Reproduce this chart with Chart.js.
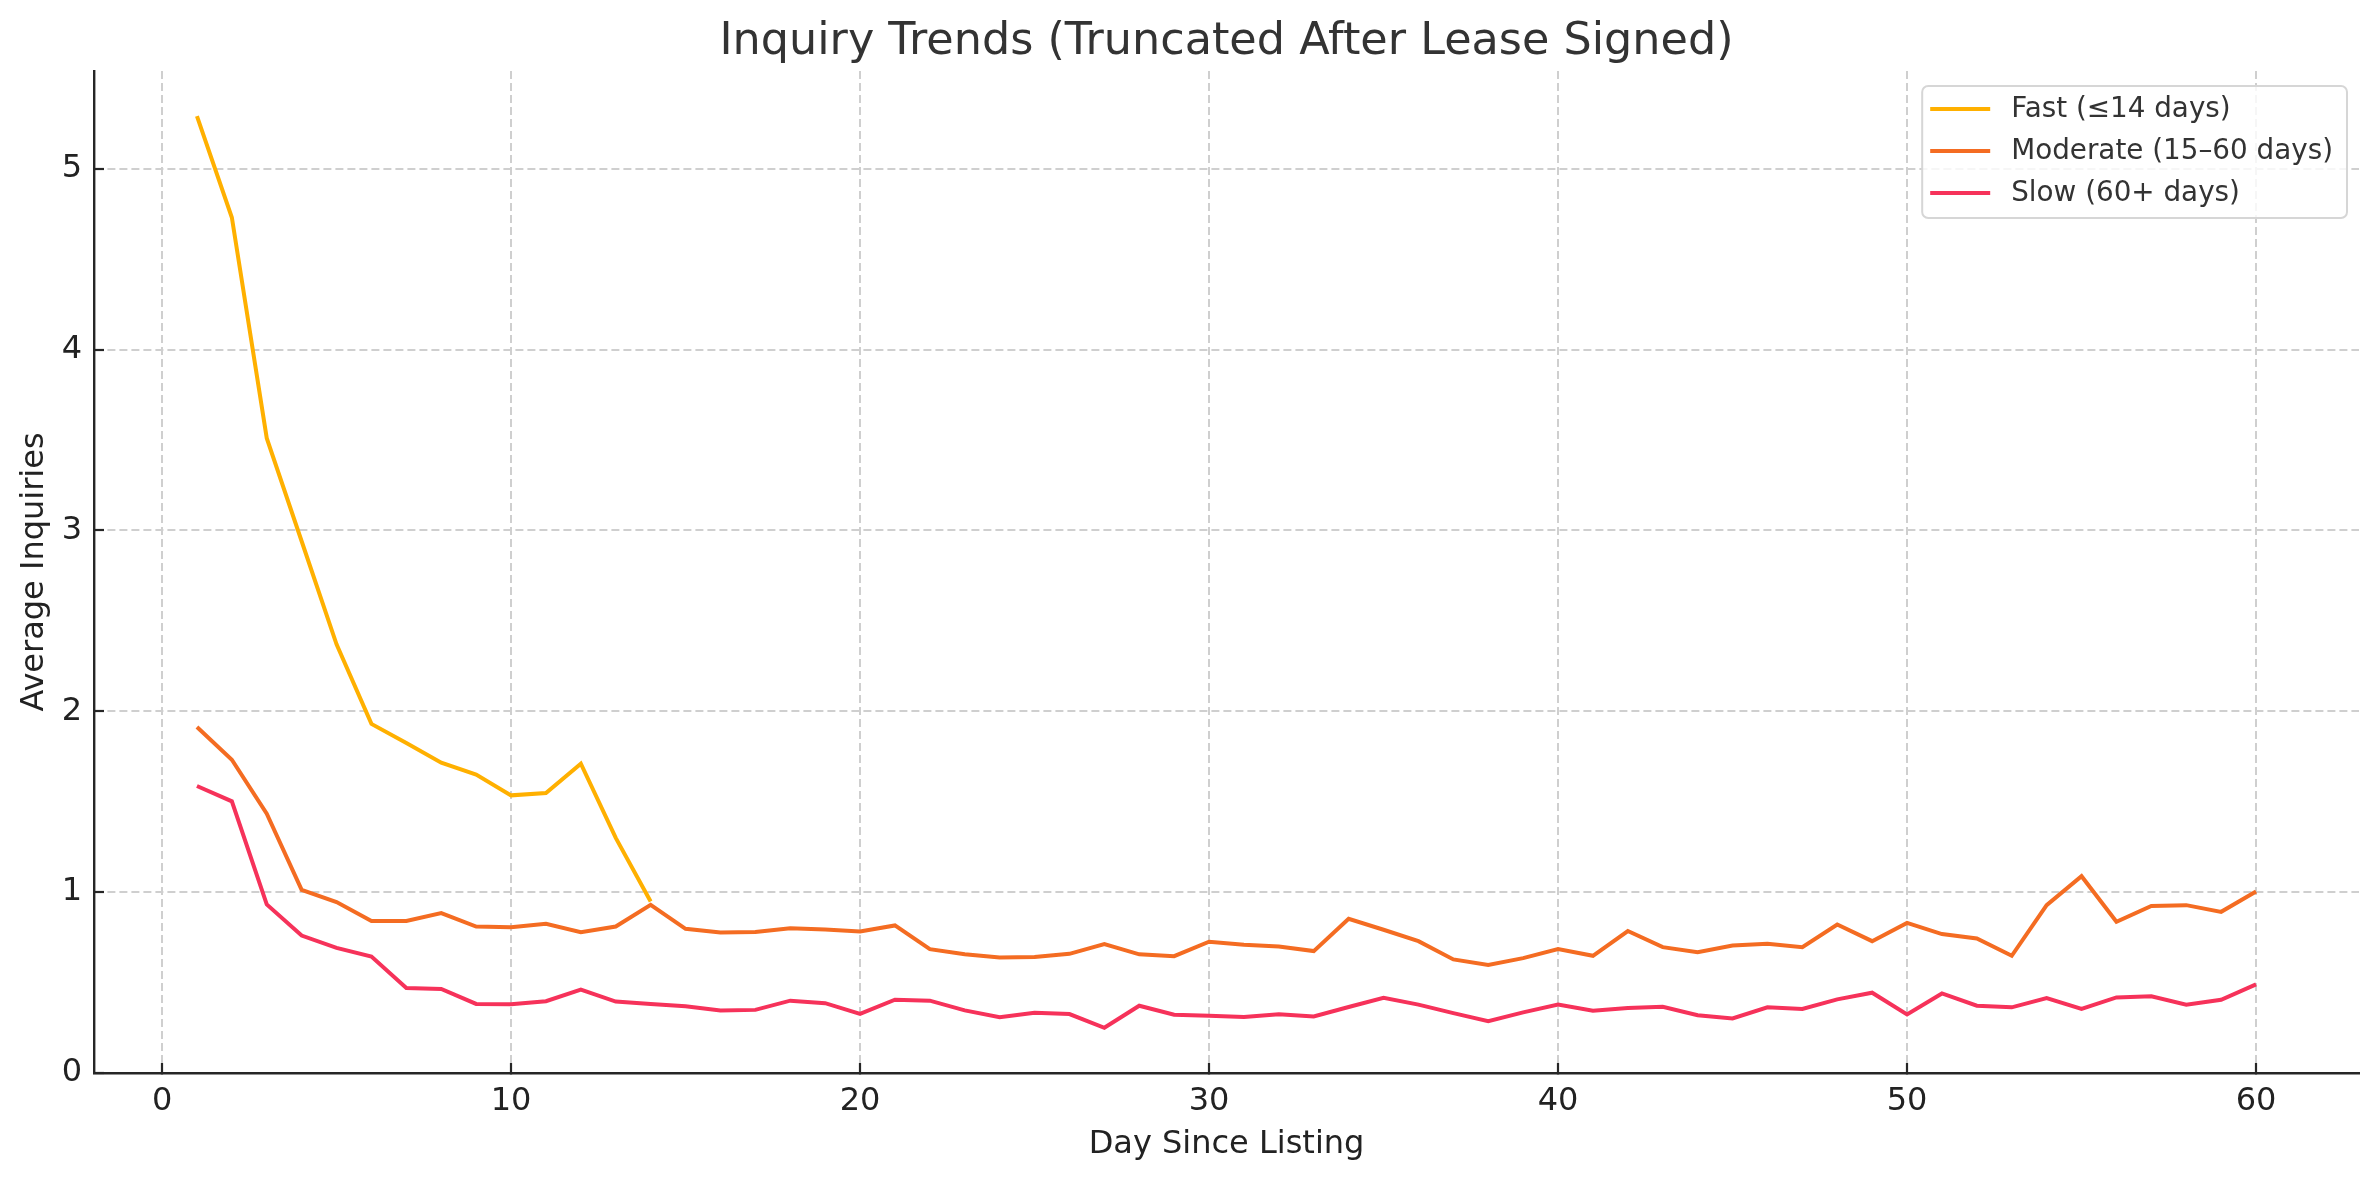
<!DOCTYPE html>
<html>
<head>
<meta charset="utf-8">
<title>Inquiry Trends</title>
<script src="https://cdn.jsdelivr.net/npm/chart.js@4.4.1/dist/chart.umd.min.js"></script>
<style>
    html, body { margin: 0; padding: 0; background: #ffffff; }
    #wrap { width: 2379px; height: 1180px; position: relative; }
</style>
</head>
<body>
<div id="wrap"><canvas id="trend-chart"></canvas></div>
<script>
// Day since listing (x values)
var DAYS = [1, 2, 3, 4, 5, 6, 7, 8, 9, 10,
    11, 12, 13, 14, 15, 16, 17, 18, 19, 20,
    21, 22, 23, 24, 25, 26, 27, 28, 29, 30,
    31, 32, 33, 34, 35, 36, 37, 38, 39, 40,
    41, 42, 43, 44, 45, 46, 47, 48, 49, 50,
    51, 52, 53, 54, 55, 56, 57, 58, 59, 60];

// Average inquiries per group (fast group stops at day 14)
var FAST = [5.29, 4.73, 3.51, 2.94, 2.37, 1.93, 1.825, 1.716, 1.65, 1.535,
    1.548, 1.71, 1.30, 0.948];

var MODERATE = [1.913, 1.732, 1.434, 1.013, 0.945, 0.84, 0.84, 0.884, 0.81, 0.806,
    0.825, 0.779, 0.81, 0.93, 0.797, 0.777, 0.779, 0.80, 0.793, 0.782,
    0.816, 0.685, 0.656, 0.639, 0.641, 0.659, 0.713, 0.656, 0.646, 0.726,
    0.709, 0.70, 0.674, 0.853, 0.792, 0.729, 0.628, 0.597, 0.635, 0.685,
    0.648, 0.785, 0.696, 0.668, 0.705, 0.715, 0.696, 0.821, 0.729, 0.83,
    0.768, 0.744, 0.648, 0.928, 1.088, 0.836, 0.924, 0.928, 0.891, 1.004];

var SLOW = [1.587, 1.502, 0.932, 0.76, 0.692, 0.644, 0.47, 0.465, 0.382, 0.38,
    0.397, 0.461, 0.395, 0.382, 0.369, 0.345, 0.349, 0.40, 0.386, 0.327,
    0.405, 0.40, 0.346, 0.308, 0.333, 0.326, 0.25, 0.372, 0.322, 0.317,
    0.31, 0.325, 0.313, 0.365, 0.416, 0.378, 0.331, 0.287, 0.335, 0.378,
    0.344, 0.359, 0.366, 0.319, 0.302, 0.363, 0.354, 0.407, 0.444, 0.324,
    0.44, 0.372, 0.363, 0.414, 0.355, 0.418, 0.424, 0.378, 0.405, 0.49];

var SERIES_LABELS = ['Fast (\u226414 days)', 'Moderate (15\u201360 days)', 'Slow (60+ days)'];
var CHART_TITLE = 'Inquiry Trends (Truncated After Lease Signed)';

var X_TICKS = [0, 10, 20, 30, 40, 50, 60];
var Y_TICKS = [0, 1, 2, 3, 4, 5];

var FONT = "'DejaVu Sans', sans-serif";
var INK = '#262626';

function toPoints(values) {
    return values.map(function(v, i) { return { x: DAYS[i], y: v }; });
}

// Title centred over the plot area plus a matplotlib-style legend in the upper right
var axesDecor = {
    id: 'axesDecor',
    afterDraw: function(chart) {
        var ctx = chart.ctx;
        var area = chart.chartArea;
        var sets = chart.data.datasets;
        ctx.save();

        ctx.font = '44.5px ' + FONT;
        ctx.fillStyle = '#333333';
        ctx.textAlign = 'center';
        ctx.textBaseline = 'middle';
        ctx.fillText(CHART_TITLE, (area.left + area.right) / 2, 42);

        ctx.font = '27.8px ' + FONT;
        var maxW = 0;
        sets.forEach(function(ds) { maxW = Math.max(maxW, ctx.measureText(ds.label).width); });
        var w = 89 + maxW + 14;
        var h = 132;
        var x0 = area.right - 12 - w;
        var y0 = area.top + 15;
        ctx.beginPath();
        ctx.roundRect(x0, y0, w, h, 6);
        ctx.fillStyle = 'rgba(255,255,255,0.8)';
        ctx.fill();
        ctx.lineWidth = 2;
        ctx.strokeStyle = '#d6d6d6';
        ctx.stroke();
        ctx.textBaseline = 'middle';
        ctx.textAlign = 'left';
        sets.forEach(function(ds, i) {
            var y = y0 + 23 + i * 42;
            ctx.beginPath();
            ctx.moveTo(x0 + 8, y);
            ctx.lineTo(x0 + 68, y);
            ctx.lineWidth = ds.borderWidth;
            ctx.strokeStyle = ds.borderColor;
            ctx.stroke();
            ctx.fillStyle = '#333333';
            ctx.fillText(ds.label, x0 + 89, y + 1);
        });
        ctx.restore();
    }
};

var ctx = document.getElementById('trend-chart').getContext('2d');

var lineStyle = { borderWidth: 4, pointRadius: 0, pointHoverRadius: 0, tension: 0, fill: false };

var gridStyle = {
    color: '#cfcfcf',
    lineWidth: 2,
    drawTicks: true,
    tickLength: -10,
    tickColor: INK,
    tickWidth: 2.2,
    tickBorderDash: []
};

new Chart(ctx, {
    type: 'line',
    data: {
        datasets: [
            Object.assign({ label: SERIES_LABELS[0], data: toPoints(FAST), borderColor: '#FFB000' }, lineStyle),
            Object.assign({ label: SERIES_LABELS[1], data: toPoints(MODERATE), borderColor: '#F46C22' }, lineStyle),
            Object.assign({ label: SERIES_LABELS[2], data: toPoints(SLOW), borderColor: '#F6325A' }, lineStyle)
        ]
    },
    options: {
        responsive: true,
        maintainAspectRatio: false,
        animation: false,
        devicePixelRatio: 1,
        layout: { padding: { left: 0, right: 20, top: 71, bottom: 0 } },
        plugins: {
            legend: { display: false },
            tooltip: { enabled: false },
            title: { display: false }
        },
        scales: {
            x: {
                type: 'linear',
                min: -1.95,
                max: 62.95,
                afterBuildTicks: function(axis) {
                    axis.ticks = X_TICKS.map(function(v) { return { value: v }; });
                },
                afterFit: function(axis) { axis.height = 107; },
                grid: gridStyle,
                // in Chart.js v4 border.dash styles the grid lines
                border: { display: true, color: INK, width: 2.4, dash: [8, 4] },
                ticks: {
                    color: '#222222',
                    font: { family: FONT, size: 32 },
                    padding: 19,
                    maxRotation: 0,
                    callback: function(v) { return String(v); }
                },
                title: {
                    display: true,
                    text: 'Day Since Listing',
                    color: '#222222',
                    font: { family: FONT, size: 32 },
                    padding: { top: 0, bottom: 16 }
                }
            },
            y: {
                type: 'linear',
                min: 0,
                max: 5.54,
                afterBuildTicks: function(axis) {
                    axis.ticks = Y_TICKS.map(function(v) { return { value: v }; });
                },
                afterFit: function(axis) { axis.width = 94; },
                grid: gridStyle,
                border: { display: true, color: INK, width: 2.4, dash: [8, 4] },
                ticks: {
                    color: '#222222',
                    font: { family: FONT, size: 32 },
                    padding: 22,
                    callback: function(v) { return String(v); }
                },
                title: {
                    display: true,
                    text: 'Average Inquiries',
                    color: '#222222',
                    font: { family: FONT, size: 32 },
                    padding: { top: 15, bottom: 0 }
                }
            }
        }
    },
    plugins: [axesDecor]
});
</script>
</body>
</html>
